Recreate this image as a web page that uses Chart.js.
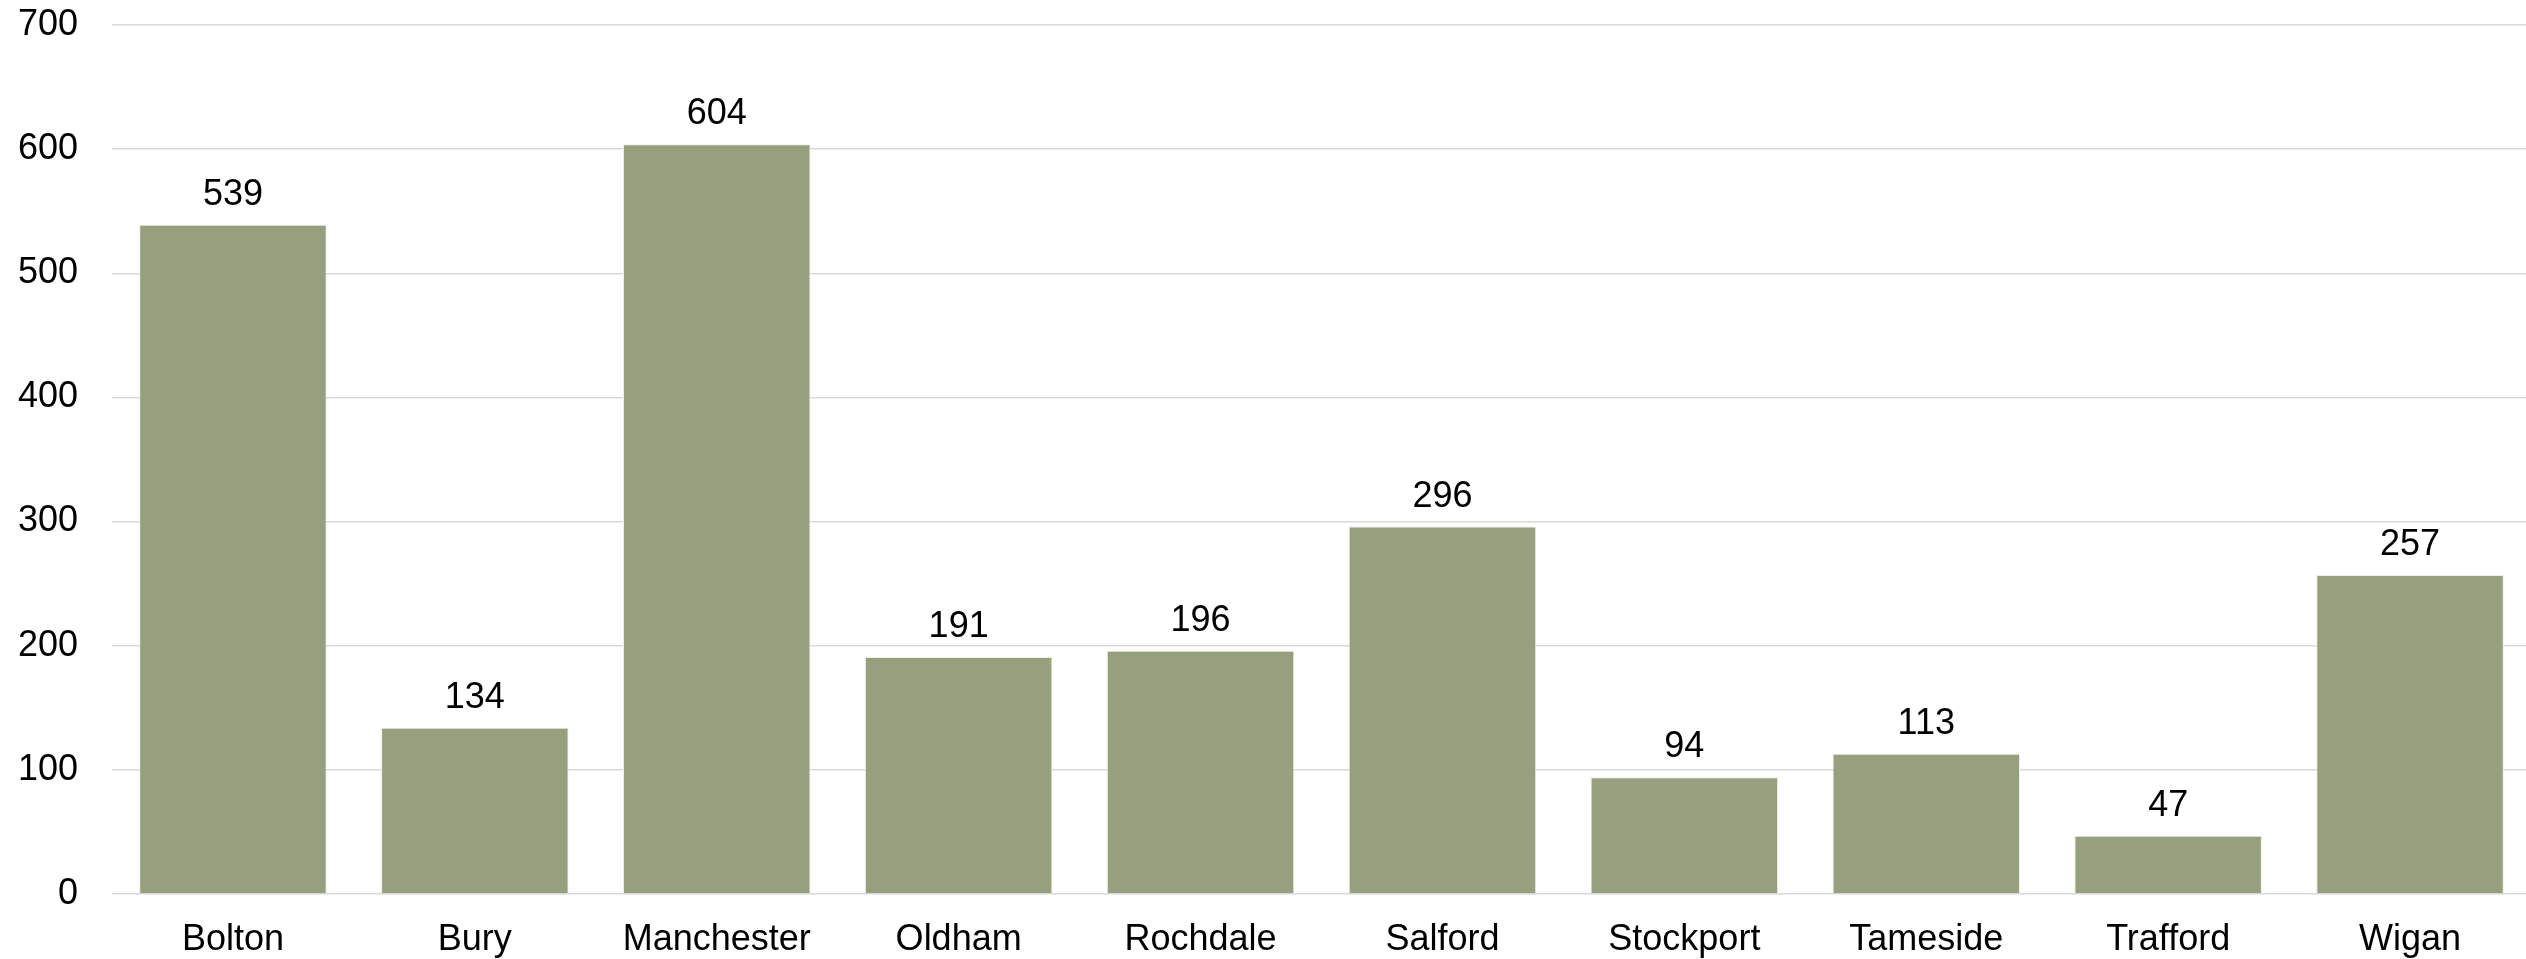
<!DOCTYPE html>
<html>
<head>
<meta charset="utf-8">
<script src="https://cdn.jsdelivr.net/npm/chart.js@4"></script>
<style>
html,body{margin:0;padding:0;background:#fff;overflow:hidden;}
#wrap{position:relative;width:2531px;height:959px;}
</style>
</head>
<body>
<div id="wrap"><canvas id="c"></canvas></div>
<script>
const categories = ["Bolton","Bury","Manchester","Oldham","Rochdale","Salford","Stockport","Tameside","Trafford","Wigan"];
const values = [539,134,604,191,196,296,94,113,47,257];
const yTicks = [0,100,200,300,400,500,600,700];

const FONT = "'Liberation Sans', Arial, sans-serif";
const FSIZE = 36;

const valueLabels = {
  id: 'valueLabels',
  afterDatasetsDraw(chart) {
    const ctx = chart.ctx;
    const meta = chart.getDatasetMeta(0);
    ctx.save();
    ctx.font = FSIZE + "px " + FONT;
    ctx.fillStyle = "#000";
    ctx.textAlign = "center";
    ctx.textBaseline = "alphabetic";
    meta.data.forEach((bar, i) => {
      ctx.fillText(String(values[i]), bar.x, bar.y - 20);
    });
    ctx.restore();
  }
};

new Chart(document.getElementById('c'), {
  type: 'bar',
  data: {
    labels: categories,
    datasets: [{
      data: values,
      backgroundColor: '#96a07e',
      borderColor: 'rgba(235,238,228,1)',
      borderWidth: 1,
      categoryPercentage: 1,
      barPercentage: 0.775
    }]
  },
  options: {
    responsive: true,
    maintainAspectRatio: false,
    animation: false,
    layout: { padding: { top: 25, right: 0, left: 0, bottom: 0 } },
    plugins: { legend: { display: false }, tooltip: { enabled: false } },
    scales: {
      x: {
        offset: true,
        grid: { display: false, drawTicks: false },
        border: { display: false },
        ticks: { color: '#000', font: { family: FONT, size: FSIZE }, padding: 24, maxRotation: 0, autoSkip: false },
        afterFit: s => { s.height = 65; s.paddingLeft = 0; s.paddingRight = 0; }
      },
      y: {
        min: 0, max: 700,
        afterBuildTicks: s => { s.ticks = yTicks.map(v => ({ value: v })); },
        grid: { color: '#d9d9d9', lineWidth: 1.5, drawTicks: false },
        border: { display: false },
        ticks: { color: '#000', font: { family: FONT, size: FSIZE }, padding: 34 },
        afterFit: s => { s.width = 112; s.paddingTop = 0; s.paddingBottom = 0; }
      }
    }
  },
  plugins: [valueLabels]
});
</script>
</body>
</html>
